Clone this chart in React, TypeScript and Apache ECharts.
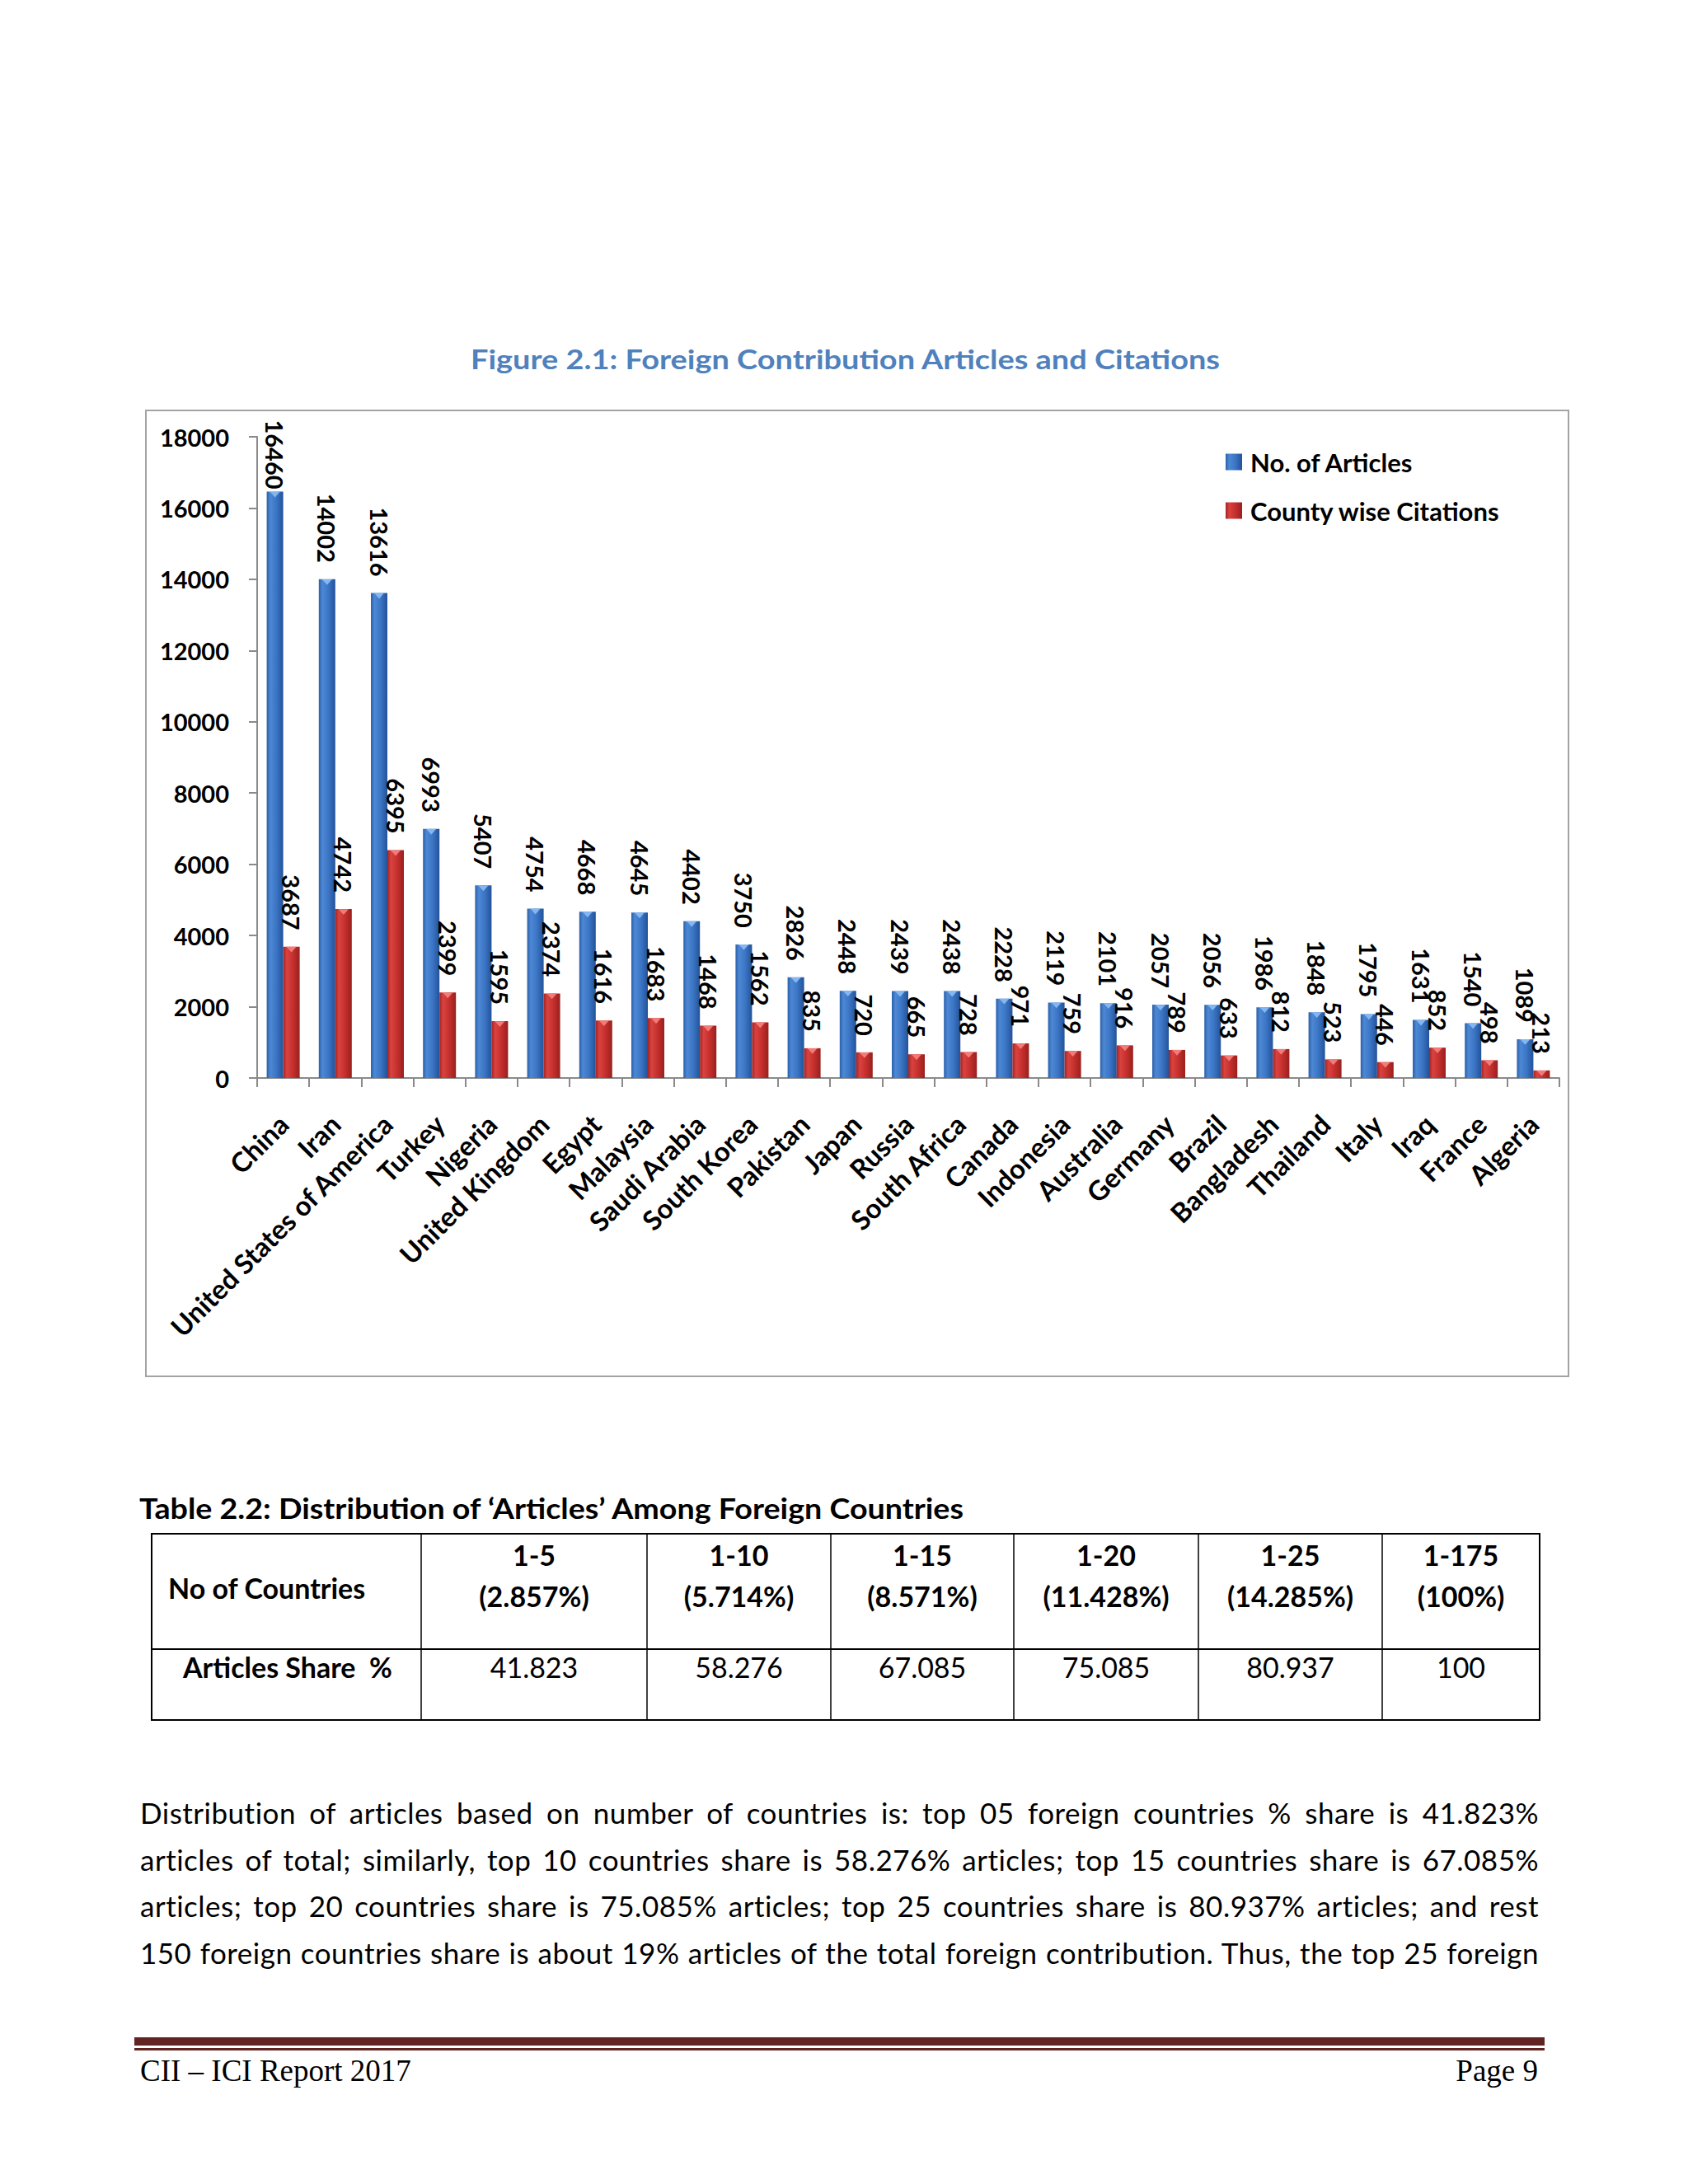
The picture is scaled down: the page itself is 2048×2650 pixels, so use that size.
import React, { useEffect, useRef } from "react";
import * as echarts from "echarts";

// ---------- data ----------
const countries = [
  "China", "Iran", "United States of America", "Turkey", "Nigeria", "United Kingdom",
  "Egypt", "Malaysia", "Saudi Arabia", "South Korea", "Pakistan", "Japan", "Russia",
  "South Africa", "Canada", "Indonesia", "Australia", "Germany", "Brazil", "Bangladesh",
  "Thailand", "Italy", "Iraq", "France", "Algeria",
];
const articles = [
  16460, 14002, 13616, 6993, 5407, 4754, 4668, 4645, 4402, 3750, 2826, 2448, 2439,
  2438, 2228, 2119, 2101, 2057, 2056, 1986, 1848, 1795, 1631, 1540, 1089,
];
const citations = [
  3687, 4742, 6395, 2399, 1595, 2374, 1616, 1683, 1468, 1562, 835, 720, 665,
  728, 971, 759, 916, 789, 633, 812, 523, 446, 852, 498, 213,
];
const seriesNames = ["No. of Articles", "County wise Citations"];
const yMin = 0;
const yMax = 18000;
const yInterval = 2000;

const figureTitle = "Figure 2.1: Foreign Contribution Articles and Citations";
const tableTitle = "Table 2.2: Distribution of \u2018Articles\u2019 Among Foreign Countries";
const tableRowHeads = ["No of Countries", "Articles Share  %"];
const tableRanges = ["1-5", "1-10", "1-15", "1-20", "1-25", "1-175"];
const tableRangePct = ["(2.857%)", "(5.714%)", "(8.571%)", "(11.428%)", "(14.285%)", "(100%)"];
const tableShares = ["41.823", "58.276", "67.085", "75.085", "80.937", "100"];
const paragraphLines = [
  "Distribution of articles based on number of countries is: top 05 foreign countries % share is 41.823%",
  "articles of total; similarly, top 10 countries share is 58.276% articles; top 15 countries share is 67.085%",
  "articles; top 20 countries share is 75.085% articles; top 25 countries share is 80.937% articles; and rest",
  "150 foreign countries share is about 19% articles of the total foreign contribution. Thus, the top 25 foreign",
];
const footerLeft = "CII \u2013 ICI Report 2017";
const footerRight = "Page 9";

// ---------- layout constants ----------
const FONT = 'Lato, "Open Sans", "DejaVu Sans", sans-serif';
const SERIF = '"Liberation Serif", "DejaVu Serif", serif';
const CH = { left: 176, top: 497, width: 1728, height: 1174 };
const PARA_X = 170;
const PARA_W = 1697;
const paraBaselines = [2213, 2270, 2326, 2383];
const colEdges = [184, 511, 785, 1008, 1230, 1454, 1677, 1868];
const tableTop = 1861;
const tableMid = 2001;
const tableBottom = 2087;

function Chart() {
  const ref = useRef<HTMLDivElement>(null);
  useEffect(() => {
    const chart = echarts.init(ref.current!, null, { renderer: "svg" });
    const grad = (stops: [number, string][]) =>
      new echarts.graphic.LinearGradient(0, 0, 1, 0, stops.map(([o, c]) => ({ offset: o, color: c })));
    const blue = grad([[0, "#2b5fa9"], [0.22, "#4d88d5"], [0.6, "#3a74c3"], [1, "#23529a"]]);
    const red = grad([[0, "#a12422"], [0.22, "#d9423f"], [0.6, "#c42f2d"], [1, "#98201e"]]);
    const labelFont = { fontFamily: FONT, fontWeight: "bold" as const, fontSize: 29, color: "#000" };
    const mkLabel = (distance: number) => ({
      show: true, position: "top" as const, rotate: -90, align: "right", verticalAlign: "middle",
      distance, ...labelFont,
    });
    const mkData = (vals: number[]) =>
      vals.map((v) => (v > 16000 ? { value: v, label: { distance: 3 } } : v));
    const axisGrey = "#8a8a8a";
    chart.setOption({
      animation: false,
      textStyle: { fontFamily: FONT },
      grid: { left: 136, right: 12, top: 33, bottom: 363, containLabel: false },
      legend: {
        data: seriesNames, orient: "vertical", left: 1306, top: 43,
        itemWidth: 20, itemHeight: 20, itemGap: 28, icon: "rect",
        textStyle: { fontFamily: FONT, fontWeight: "bold", fontSize: 31, lineHeight: 31, color: "#000", padding: [0, 0, 0, 5] },
      },
      xAxis: {
        type: "category", data: countries,
        axisLine: { lineStyle: { color: axisGrey, width: 2 } },
        axisTick: { show: true, length: 11, lineStyle: { color: axisGrey, width: 2 } },
        axisLabel: { interval: 0, rotate: 45, margin: 50, fontFamily: FONT, fontWeight: "bold", fontSize: 33, color: "#000" },
      },
      yAxis: {
        type: "value", min: yMin, max: yMax, interval: yInterval,
        splitLine: { show: false },
        axisLine: { show: true, lineStyle: { color: axisGrey, width: 2 } },
        axisTick: { show: true, length: 10, lineStyle: { color: axisGrey, width: 2 } },
        axisLabel: { margin: 34, formatter: (v: number) => String(v), ...labelFont },
      },
      series: [
        { type: "bar", name: seriesNames[0], data: mkData(articles), barWidth: 20, barGap: "0%", itemStyle: { color: blue }, label: mkLabel(20), z: 2 },
        { type: "bar", name: seriesNames[1], data: mkData(citations), barWidth: 20, barGap: "0%", itemStyle: { color: red }, label: mkLabel(20), z: 2 },
        { type: "pictorialBar", name: "capA", data: articles, barWidth: 20, barGap: "0%", symbol: "triangle", symbolRotate: 180, symbolSize: [12, 7], symbolPosition: "end", itemStyle: { color: "#86b6f0" }, z: 4, silent: true },
        { type: "pictorialBar", name: "capB", data: citations, barWidth: 20, barGap: "0%", symbol: "triangle", symbolRotate: 180, symbolSize: [12, 7], symbolPosition: "end", itemStyle: { color: "#f27b78" }, z: 4, silent: true },
      ],
    });
    return () => chart.dispose();
  }, []);
  return <div ref={ref} style={{ position: "absolute", left: CH.left, top: CH.top, width: CH.width, height: CH.height }} />;
}

function PageText() {
  const paraRefs = useRef<(SVGTextElement | null)[]>([]);
  useEffect(() => {
    const fit = () => {
      paraRefs.current.forEach((el, i) => {
        if (!el) return;
        el.style.wordSpacing = "0px";
        el.removeAttribute("textLength");
        el.removeAttribute("lengthAdjust");
        const len = el.getComputedTextLength();
        const spaces = (paragraphLines[i].match(/ /g) || []).length;
        const ws = (PARA_W - len) / Math.max(spaces, 1);
        el.style.wordSpacing = ws + "px";
        const len2 = el.getComputedTextLength();
        if (Math.abs(len2 - PARA_W) > 4) {
          el.style.wordSpacing = "0px";
          el.setAttribute("textLength", String(PARA_W));
          el.setAttribute("lengthAdjust", "spacing");
        }
      });
    };
    fit();
    const f: any = (document as any).fonts;
    if (f && f.ready) f.ready.then(fit);
  }, []);

  const colCenter = (i: number) => (colEdges[i + 1] + colEdges[i + 2]) / 2;
  return (
    <svg width={2048} height={2650} style={{ position: "absolute", left: 0, top: 0 }}>
      <rect x={0} y={0} width={2048} height={2650} fill="#ffffff" />
      <text x={1025.5} y={448} textAnchor="middle" fontFamily={FONT} fontWeight="bold" fontSize={33} fill="#4f81bd"
        textLength={909} lengthAdjust="spacingAndGlyphs">{figureTitle}</text>
      <rect x={CH.left + 1} y={CH.top + 1} width={CH.width - 2} height={CH.height - 2} fill="none" stroke="#a3a3a3" strokeWidth={2} />

      <text x={169} y={1843} fontFamily={FONT} fontWeight="bold" fontSize={34} fill="#000"
        textLength={1000} lengthAdjust="spacingAndGlyphs">{tableTitle}</text>
      <rect x={colEdges[0]} y={tableTop} width={colEdges[7] - colEdges[0]} height={tableBottom - tableTop} fill="none" stroke="#000" strokeWidth={2} />
      <line x1={colEdges[0]} y1={tableMid} x2={colEdges[7]} y2={tableMid} stroke="#000" strokeWidth={2} />
      {colEdges.slice(1, 7).map((x, i) => (
        <line key={"cl" + i} x1={x} y1={tableTop} x2={x} y2={tableBottom} stroke="#000" strokeWidth={1.5} />
      ))}
      <text x={204} y={1940} fontFamily={FONT} fontWeight="bold" fontSize={34} fill="#000">{tableRowHeads[0]}</text>
      <text x={222} y={2036} fontFamily={FONT} fontWeight="bold" fontSize={34} fill="#000" style={{ whiteSpace: "pre" }}>{tableRowHeads[1]}</text>
      {tableRanges.map((t, i) => (
        <text key={"r" + i} x={colCenter(i)} y={1900} textAnchor="middle" fontFamily={FONT} fontWeight="bold" fontSize={34} fill="#000">{t}</text>
      ))}
      {tableRangePct.map((t, i) => (
        <text key={"p" + i} x={colCenter(i)} y={1950} textAnchor="middle" fontFamily={FONT} fontWeight="bold" fontSize={34} fill="#000">{t}</text>
      ))}
      {tableShares.map((t, i) => (
        <text key={"s" + i} x={colCenter(i)} y={2036} textAnchor="middle" fontFamily={FONT} fontSize={34} fill="#000">{t}</text>
      ))}

      {paragraphLines.map((t, i) => (
        <text key={"l" + i} ref={(el) => { paraRefs.current[i] = el; }} x={PARA_X} y={paraBaselines[i]}
          fontFamily={FONT} fontSize={35} fill="#000" style={{ letterSpacing: "0.5px" }}>{t}</text>
      ))}

      <rect x={163} y={2472} width={1711} height={10} fill="#622423" />
      <rect x={163} y={2485} width={1711} height={3} fill="#622423" />
      <text x={170} y={2525} fontFamily={SERIF} fontSize={37} fill="#000">{footerLeft}</text>
      <text x={1866} y={2525} textAnchor="end" fontFamily={SERIF} fontSize={37} fill="#000">{footerRight}</text>
    </svg>
  );
}

export default function App() {
  return (
    <div style={{ position: "absolute", left: 0, top: 0, width: 2048, height: 2650, background: "#fff", overflow: "hidden" }}>
      <PageText />
      <Chart />
    </div>
  );
}
